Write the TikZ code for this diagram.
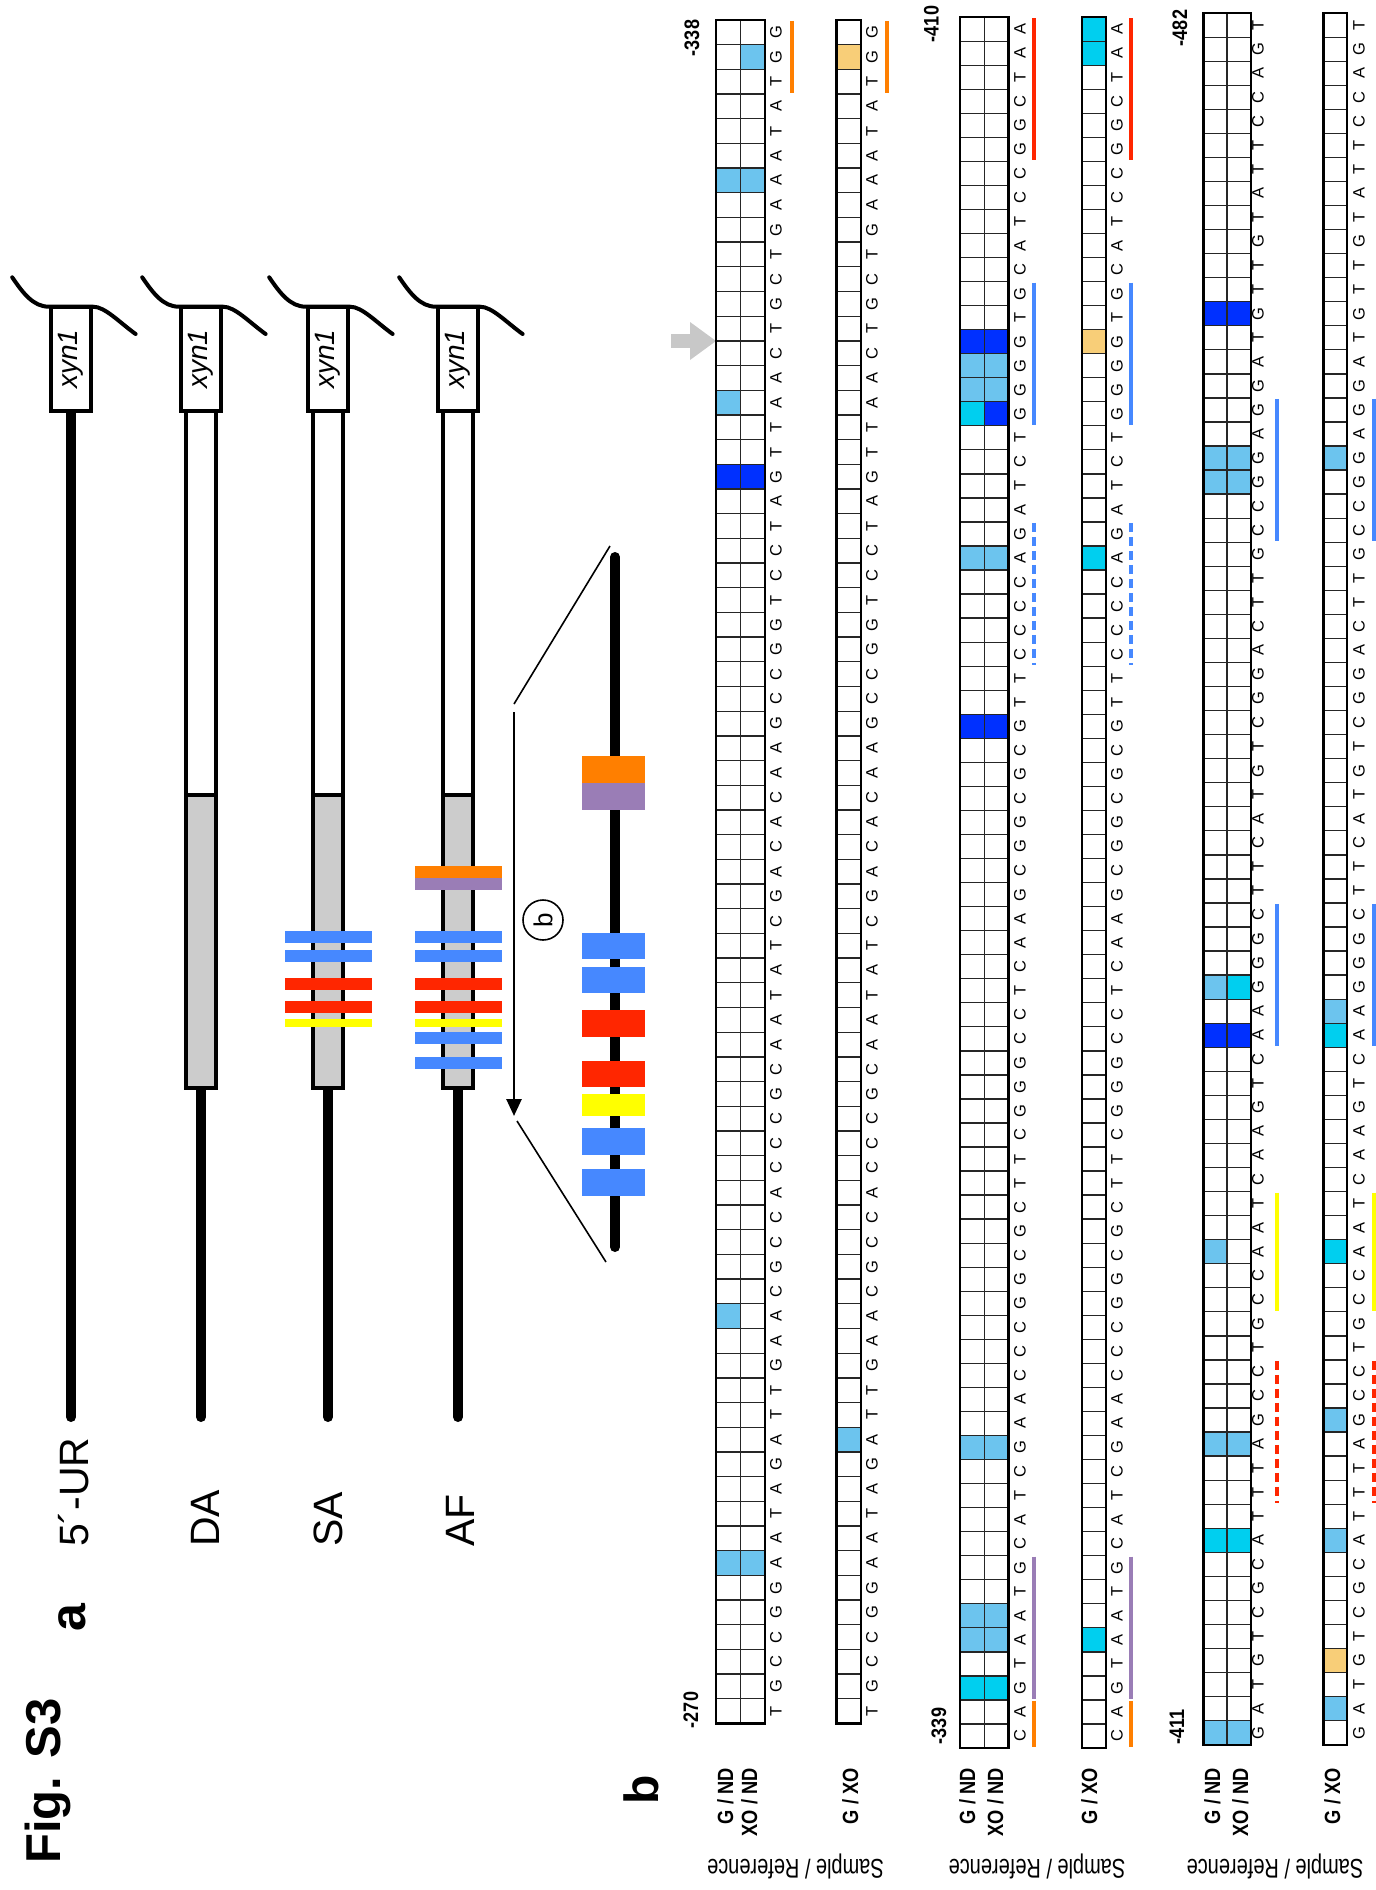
\documentclass[tikz,border=0pt]{standalone}
\usepackage{fontspec}
\setmainfont{Liberation Sans}
\usetikzlibrary{arrows.meta}
\definecolor{lb}{HTML}{6CC4EE}
\definecolor{cy}{HTML}{00CFEF}
\definecolor{db}{HTML}{0030FF}
\definecolor{orf}{HTML}{F8CE78}
\definecolor{anor}{HTML}{FF7F00}
\definecolor{anpu}{HTML}{9A7DB6}
\definecolor{anre}{HTML}{FF2600}
\definecolor{anbl}{HTML}{4688FF}
\definecolor{anye}{HTML}{FFFF00}
\definecolor{tubegray}{HTML}{CCCCCC}
\definecolor{arrgray}{HTML}{C8C8C8}

\def\seqA{T,G,C,C,G,G,A,A,T,A,G,A,T,T,G,A,A,C,G,C,C,A,C,C,C,G,C,A,A,T,A,T,C,G,A,C,A,C,A,A,G,C,C,G,G,T,C,C,T,A,G,T,T,A,A,C,T,G,C,T,G,A,A,A,T,A,T,G,G}
\def\seqB{C,A,G,T,A,A,T,G,C,A,T,C,G,A,A,C,C,C,G,G,C,G,C,T,T,C,G,G,G,C,C,T,C,A,A,G,C,G,G,C,G,C,G,T,T,C,C,C,C,A,G,A,T,C,T,G,G,G,G,T,G,C,A,T,C,C,G,G,C,T,A,A}
\def\seqC{G,A,T,G,T,C,G,C,A,T,T,T,A,G,C,C,T,G,C,C,A,A,T,C,A,A,G,T,C,A,A,G,G,G,C,T,T,C,A,T,G,T,C,G,G,A,C,T,T,G,C,C,G,G,A,G,G,A,T,G,T,T,G,T,A,T,T,C,C,A,G,T}

% #1 x0, #2 cell w, #3 cols, #4 bottom, #5 cell h, #6 n
\newcommand{\seqgrid}[6]{%
  \pgfmathsetmacro{\mygtop}{#4-#6*#5}%
  \pgfmathsetmacro{\mygright}{#1+#3*#2}%
  \pgfmathtruncatemacro{\mygn}{#6-1}%
  \foreach \k in {1,...,\mygn}{\draw[gline] (#1,{#4-\k*#5}) -- (\mygright,{#4-\k*#5});}%
  \ifnum#3=2 \draw[gline] ({#1+#2},#4) -- ({#1+#2},\mygtop);\fi
  \draw[gborder] (#1,#4) rectangle (\mygright,\mygtop);%
}
% #1 x, #2 bottom, #3 cell h, #4 name prefix, #5 list macro
\newcommand{\seqletters}[5]{%
  \foreach \c [count=\i] in #5 {\node[nuc] (#4\i) at (#1,{#2-(\i-0.5)*#3}) {\c};}%
}
% #1 style, #2 x, #3 bottom, #4 h, #5 i1, #6 i2
\newcommand{\annot}[6]{%
  \draw[#1] (#2,{#3-#6*#4+1}) -- (#2,{#3-(#5-1)*#4-1});%
}

\begin{document}
\begin{tikzpicture}[x=1pt,y=-1pt,
  nuc/.style={rotate=90,inner sep=0pt,font=\fontsize{16.5}{16.5}\selectfont},
  num/.style={rotate=90,inner sep=0pt,font=\fontsize{21}{21}\selectfont\bfseries},
  rowlbl/.style={rotate=90,inner sep=0pt,anchor=base east,font=\fontsize{22}{22}\selectfont\bfseries},
  sref/.style={rotate=180,inner sep=0pt,font=\fontsize{27}{27}\selectfont},
  biglbl/.style={rotate=90,inner sep=0pt,anchor=base west,font=\fontsize{41}{41}\selectfont},
  gline/.style={line width=1.3pt,black!85},
  gborder/.style={line width=2.4pt,black},
  blk/.style={line width=10pt,line cap=round},
  ann/.style={line width=4pt},
  annd/.style={line width=4pt,dash pattern=on 9pt off 5pt},
  thin/.style={line width=1.6pt}
]
\useasboundingbox (0,0) rectangle (1376,1890);
\fill[white] (0,0) rectangle (1376,1890);

% ---------------- titles ----------------
\node[rotate=90,inner sep=0pt,anchor=base west,font=\fontsize{49}{49}\selectfont\bfseries] (fig) at (60,1864) {Fig. S3};
\node[rotate=90,inner sep=0pt,anchor=base,font=\fontsize{50}{50}\selectfont\bfseries] (pa) at (85,1618) {a};
\node[rotate=90,inner sep=0pt,anchor=base,font=\fontsize{48}{48}\selectfont\bfseries] (pb) at (658,1790) {b};

\node[biglbl] (lUR) at (88,1547) {5´-UR};
\node[biglbl] (lDA) at (219,1547) {DA};
\node[biglbl] (lSA) at (342,1547) {SA};
\node[biglbl] (lAF) at (474,1547) {AF};

% ---------------- panel a constructs ----------------
\draw[blk] (71,400) -- (71,1417);
\foreach \cx in {201,328,458} {
  \draw[blk] (\cx,1080) -- (\cx,1417);
  \draw[line width=4pt,fill=white] ({\cx-15},411) rectangle ({\cx+15},795);
  \draw[line width=4pt,fill=tubegray] ({\cx-15},795) rectangle ({\cx+15},1088);
}
\foreach \cx [count=\j] in {71,201,328,458} {
  \draw[line width=4pt,line cap=round] ({\cx-58.8},277.3) .. controls ({\cx-48},293) and ({\cx-38},306.7) .. ({\cx-22},306.7) -- ({\cx+22},306.7) .. controls ({\cx+34},306.7) and ({\cx+48},322) .. ({\cx+64.6},334);
  \node[draw,line width=4pt,fill=white,rotate=90,minimum width=104pt,minimum height=40pt,inner sep=0pt,font=\fontsize{28}{28}\selectfont\itshape] (xyn\j) at (\cx,359) {xyn1};
}
% bands SA
\foreach \y/\h/\c in {930.7/12/anbl,950/11.7/anbl,978/12/anre,1001/11.7/anre,1019/7.7/anye}
  \fill[\c] (285,\y) rectangle ++(87,\h);
% bands AF
\foreach \y/\h/\c in {865.7/12/anor,877.7/12.3/anpu,930.7/12/anbl,950/11.7/anbl,977.7/12.3/anre,1001/11.7/anre,1019/7.7/anye,1032/12.3/anbl,1057.3/12/anbl}
  \fill[\c] (415,\y) rectangle ++(87,\h);

% arrow and circle b
\coordinate (arrTop) at (514,712);
\coordinate (arrTip) at (514,1116);
\draw[line width=2.7pt,-{Triangle[width=15pt,length=17pt]}] (arrTop) -- (arrTip);
\node[draw,circle,line width=1.6pt,minimum size=40pt,inner sep=0pt,rotate=90,font=\fontsize{26}{26}\selectfont] (bc) at (543,920) {b};

% zoom lines
\coordinate (zA1) at (514,704);
\coordinate (zA2) at (610,546);
\coordinate (zB1) at (517,1121);
\coordinate (zB2) at (606,1262);
\draw[thin] (zA1) -- (zA2);
\draw[thin] (zB1) -- (zB2);

% zoomed region
\draw[blk] (615,557) -- (615,1247);
\foreach \y/\h/\c in {756/27/anor,783/27/anpu,933.3/26/anbl,966.7/26/anbl,1010/26.7/anre,1060.7/26/anre,1094.3/21.4/anye,1128.3/26.7/anbl,1169.3/26.7/anbl}
  \fill[\c] (582,\y) rectangle ++(63,\h);

% ---------------- panel b ----------------
% row labels
\foreach \xa/\xb/\xc/\xs [count=\r] in {733/757/858/795.5, 975/1003/1097/1037, 1220/1248/1340/1275} {
  \node[rowlbl] (gnd\r) at (\xa,1768) {\scalebox{0.83}[1]{G / ND}};
  \node[rowlbl] (xnd\r) at (\xb,1768) {\scalebox{0.83}[1]{XO / ND}};
  \node[rowlbl] (gxo\r) at (\xc,1768) {\scalebox{0.83}[1]{G / XO}};
  \node[sref] (sr\r) at (\xs,1866) {\scalebox{0.74}[1]{Sample / Reference}};
}
% position numbers
\node[num] (n270) at (691,1710) {\scalebox{0.86}[1]{-270}};
\node[num] (n338) at (692,38) {\scalebox{0.86}[1]{-338}};
\node[num] (n339) at (939,1726) {\scalebox{0.86}[1]{-339}};
\node[num] (n410) at (931.5,24) {\scalebox{0.86}[1]{-410}};
\node[num] (n411) at (1177,1727) {\scalebox{0.86}[1]{-411}};
\node[num] (n482) at (1180,28) {\scalebox{0.86}[1]{-482}};

% gray arrow
\fill[arrgray] (671,334) rectangle (691,348);
\fill[arrgray] (690,322) -- (716,341) -- (690,360) -- cycle;

% ---- row 1 ----
\foreach \i/\x/\c in {7/716/lb,7/740.5/lb,17/716/lb,51/716/db,51/740.5/db,54/716/lb,63/716/lb,63/740.5/lb,68/740.5/lb,12/836.5/lb,68/836.5/orf}
  \fill[\c] (\x,{1723.5-\i*24.69}) rectangle ++(24.5,24.69);
\seqgrid{716}{24.5}{2}{1723.5}{24.69}{69}
\seqgrid{836.5}{24.5}{1}{1723.5}{24.69}{69}
\seqletters{776}{1723.5}{24.69}{ra}{\seqA}
\seqletters{872}{1723.5}{24.69}{rb}{\seqA}
\foreach \ax in {792,887} {\annot{ann,anor}{\ax}{1723.5}{24.69}{67}{69}}

% ---- row 2 ----
\foreach \i/\x/\c in {3/960/cy,3/984.2/cy,5/960/lb,5/984.2/lb,6/960/lb,6/984.2/lb,13/960/lb,13/984.2/lb,43/960/db,43/984.2/db,50/960/lb,50/984.2/lb,56/960/cy,56/984.2/db,57/960/lb,57/984.2/lb,58/960/lb,58/984.2/lb,59/960/db,59/984.2/db,5/1082/cy,50/1082/cy,59/1082/orf,71/1082/cy,72/1082/cy}
  \fill[\c] (\x,{1748-\i*24.04}) rectangle ++(24.2,24.04);
\seqgrid{960}{24.2}{2}{1748}{24.04}{72}
\seqgrid{1082}{24.2}{1}{1748}{24.04}{72}
\seqletters{1020}{1748}{24.04}{sa}{\seqB}
\seqletters{1117}{1748}{24.04}{sb}{\seqB}
\foreach \ax in {1034,1131} {
  \annot{ann,anor}{\ax}{1748}{24.04}{1}{2}
  \annot{ann,anpu}{\ax}{1748}{24.04}{3}{8}
  \annot{annd,anbl}{\ax}{1748}{24.04}{46}{51}
  \annot{ann,anbl}{\ax}{1748}{24.04}{56}{61}
  \annot{ann,anre}{\ax}{1748}{24.04}{67}{72}
}

% ---- row 3 ----
\foreach \i/\x/\c in {1/1203.3/lb,1/1227/lb,9/1203.3/cy,9/1227/cy,13/1203.3/lb,13/1227/lb,21/1203.3/lb,30/1203.3/db,30/1227/db,32/1203.3/lb,32/1227/cy,53/1203.3/lb,53/1227/lb,54/1203.3/lb,54/1227/lb,60/1203.3/db,60/1227/db,2/1323.3/lb,4/1323.3/orf,9/1323.3/lb,14/1323.3/lb,21/1323.3/cy,30/1323.3/cy,31/1323.3/lb,54/1323.3/lb}
  \fill[\c] (\x,{1744.7-\i*24.05}) rectangle ++(23.7,24.05);
\seqgrid{1203.3}{23.7}{2}{1744.7}{24.05}{72}
\seqgrid{1323.3}{23.7}{1}{1744.7}{24.05}{72}
\seqletters{1258}{1744.7}{24.05}{ta}{\seqC}
\seqletters{1359}{1744.7}{24.05}{tb}{\seqC}
\foreach \ax in {1277,1374} {
  \annot{annd,anre}{\ax}{1744.7}{24.05}{11}{16}
  \annot{ann,anye}{\ax}{1744.7}{24.05}{19}{23}
  \annot{ann,anbl}{\ax}{1744.7}{24.05}{30}{35}
  \annot{ann,anbl}{\ax}{1744.7}{24.05}{51}{56}
}
\end{tikzpicture}
\end{document}
